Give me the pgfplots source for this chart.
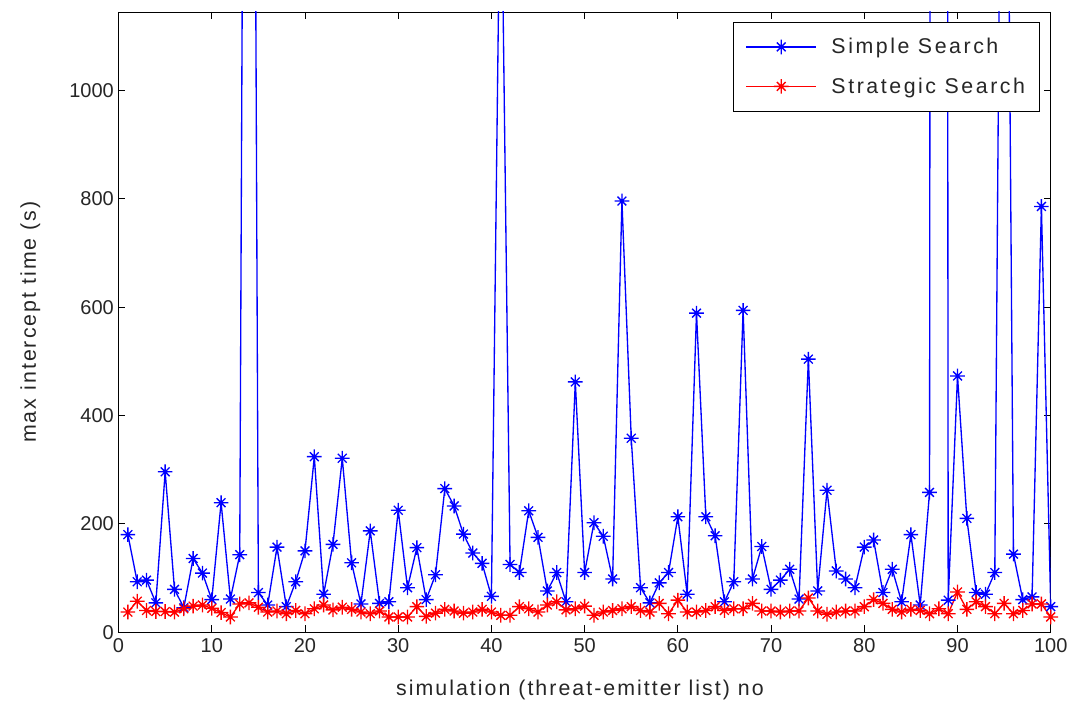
\documentclass[border=0pt]{standalone}
\usepackage{fontspec}
\setmainfont{Liberation Sans}
\newfontfamily\lblfont[LetterSpace=9.5]{Liberation Sans}
\newfontfamily\legfont[LetterSpace=12]{Liberation Sans}
\usepackage{pgfplots}
\pgfplotsset{compat=1.18}
\pgfdeclareplotmark{mstar}{%
  \pgfpathmoveto{\pgfqpoint{-\pgfplotmarksize}{0pt}}%
  \pgfpathlineto{\pgfqpoint{\pgfplotmarksize}{0pt}}%
  \pgfpathmoveto{\pgfqpoint{0pt}{-\pgfplotmarksize}}%
  \pgfpathlineto{\pgfqpoint{0pt}{\pgfplotmarksize}}%
  \pgfpathmoveto{\pgfqpoint{-0.6\pgfplotmarksize}{-0.6\pgfplotmarksize}}%
  \pgfpathlineto{\pgfqpoint{0.6\pgfplotmarksize}{0.6\pgfplotmarksize}}%
  \pgfpathmoveto{\pgfqpoint{-0.6\pgfplotmarksize}{0.6\pgfplotmarksize}}%
  \pgfpathlineto{\pgfqpoint{0.6\pgfplotmarksize}{-0.6\pgfplotmarksize}}%
  \pgfusepathqstroke}
\pgfplotstableread{
x y
1 180
2 93
3 96
4 54
5 296
6 79
7 45
8 136
9 109
10 60
11 239
12 61
13 143
14 4000
15 73
16 50
17 157
18 47
19 93
20 150
21 324
22 70
23 162
24 321
25 128
26 52
27 187
28 53
29 56
30 225
31 82
32 156
33 60
34 106
35 265
36 233
37 181
38 146
39 127
40 66
41 1500
42 125
43 110
44 224
45 175
46 76
47 110
48 56
49 462
50 110
51 202
52 177
53 98
54 796
55 358
56 82
57 54
58 91
59 110
60 213
61 70
62 589
63 213
64 178
65 56
66 93
67 594
68 98
69 158
70 79
71 96
72 116
73 61
74 504
75 76
76 262
77 113
78 98
79 82
80 157
81 170
82 73
83 116
84 56
85 180
86 50
87 258
88 20000
89 59
90 473
91 210
92 73
93 70
94 110
95 2400
96 144
97 60
98 65
99 786
100 47
}\simpletab
\pgfplotstableread{
x y
1 37
2 57
3 40
4 38
5 38
6 37
7 43
8 48
9 50
10 44
11 36
12 28
13 52
14 54
15 46
16 37
17 39
18 34
19 40
20 34
21 43
22 50
23 41
24 46
25 42
26 37
27 34
28 39
29 28
30 28
31 28
32 47
33 29
34 35
35 42
36 39
37 35
38 37
39 42
40 37
41 31
42 31
43 47
44 43
45 37
46 50
47 56
48 41
49 43
50 48
51 31
52 37
53 40
54 43
55 47
56 40
57 37
58 53
59 34
60 59
61 37
62 37
63 40
64 47
65 40
66 43
67 43
68 53
69 39
70 39
71 37
72 39
73 39
74 63
75 39
76 33
77 37
78 39
79 39
80 47
81 60
82 53
83 42
84 37
85 42
86 40
87 34
88 43
89 34
90 74
91 42
92 56
93 47
94 34
95 53
96 34
97 40
98 52
99 52
100 28
}\strategictab
\begin{document}
\begin{tikzpicture}
\begin{axis}[
  scale only axis,
  width=699pt, height=465pt,
  xmin=0, xmax=100, ymin=0, ymax=1145,
  xtick={0,10,...,100}, ytick={0,200,...,1000},
  scaled y ticks=false,
  /pgf/number format/1000 sep={},
  /pgf/number format/assume math mode=true,
  tick align=inside,
  major tick length=5pt,
  tick style={black, line width=0.6pt},
  axis line style={black, line width=0.7pt},
  ticklabel style={font=\fontsize{15}{18}\selectfont, text=black!85},
  xticklabel style={yshift=-1pt},
  xlabel={simulation (threat-emitter list) no},
  ylabel={max intercept time (s)},
  every axis x label/.style={at={(axis description cs:0.495,-0.0935)},anchor=center,
    font=\lblfont\fontsize{16}{19}\selectfont, text=black!85},
  every axis y label/.style={at={(axis description cs:-0.0945,0.5)},rotate=90,anchor=center,
    font=\lblfont\fontsize{16}{19}\selectfont, text=black!85},
  legend style={at={(axis description cs:0.9885,0.984)}, anchor=north east,
    draw=black, fill=white,
    font=\legfont\fontsize{16}{19}\selectfont, text=black!85,
    row sep=12.5pt, inner xsep=9pt, inner ysep=10pt,
    /tikz/every odd column/.append style={column sep=9pt}},
  legend cell align=left,
  legend image code/.code={%
    \draw[line width=1pt, mark repeat=2,mark phase=2] plot coordinates {(0cm,0cm) (0.92cm,0cm) (1.84cm,0cm)};},
]
\addplot[blue, line width=1pt, mark=mstar, mark size=5.5pt, mark options={line width=1pt}] table[x=x,y=y] {\simpletab};
\addlegendentry{Simple Search}
\addplot[red, line width=1pt, mark=mstar, mark size=5.5pt, mark options={line width=1pt}] table[x=x,y=y] {\strategictab};
\addlegendentry{Strategic Search}
\end{axis}
\path (current axis.south west) ++(-88.9pt,-54pt) coordinate (bl);
\path (current axis.north east) ++(21.2pt,9pt) coordinate (tr);
\pgfresetboundingbox
\useasboundingbox (bl) rectangle (tr);
\end{tikzpicture}
\end{document}
